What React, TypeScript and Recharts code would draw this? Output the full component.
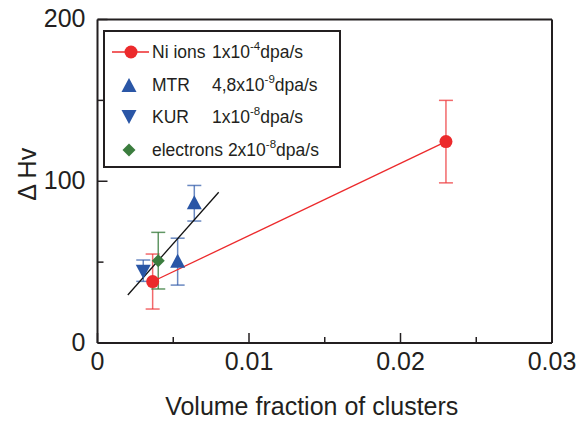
import React from 'react';
import { ScatterChart, Scatter, XAxis, YAxis, ErrorBar } from 'recharts';

// measured points (x = volume fraction, y = delta Hv, err = half error bar)
const niIons = [
  { x: 0.00364, y: 38, err: 17 },
  { x: 0.023, y: 124.5, err: 25.5 },
];
const mtr = [
  { x: 0.00529, y: 50.3, err: 14.5 },
  { x: 0.00639, y: 86.4, err: 11 },
];
const kur = [{ x: 0.00302, y: 44.7, err: 6.6 }];
const electrons = [{ x: 0.00401, y: 50.9, err: 17.5 }];
const fitLine = [
  { x: 0.002, y: 29.7 },
  { x: 0.008, y: 93.2 },
];

const xTicks = [0, 0.005, 0.01, 0.015, 0.02, 0.025, 0.03];
const yTicks = [0, 50, 100, 150, 200];
const xMajor = [0, 0.01, 0.02, 0.03];
const yMajor = [0, 100, 200];

const legendNames = ['Ni ions', 'MTR', 'KUR', 'electrons'];
const legendRates = ['1x10', '4,8x10', '1x10', '2x10'];
const legendExps = ['-4', '-9', '-8', '-8'];

const RED = '#ec2a2c';
const BLUE = '#2a56a6';
const GREEN = '#3b7d3e';
const INK = '#231f20';
const FONT = '"Liberation Sans", Arial, Helvetica, sans-serif';

const isMajor = (v: number, list: number[]) => list.some(m => Math.abs(m - v) < 1e-9);

const BottomTick = (props: any) => {
  const { x, y, payload } = props;
  const major = isMajor(payload.value, xMajor);
  return (
    <g>
      <line x1={x} y1={y} x2={x} y2={y - (major ? 10 : 6)} stroke={INK} strokeWidth={1.5} />
      {major && (
        <text x={x} y={y + 27} textAnchor="middle" fontSize={25} fill={INK}>
          {payload.value === 0 ? '0' : payload.value.toFixed(2)}
        </text>
      )}
    </g>
  );
};

const TopTick = (props: any) => {
  const { x, y, payload } = props;
  const major = isMajor(payload.value, xMajor);
  return <line x1={x} y1={y} x2={x} y2={y + (major ? 10 : 6)} stroke={INK} strokeWidth={1.5} />;
};

const LeftTick = (props: any) => {
  const { x, y, payload } = props;
  const major = isMajor(payload.value, yMajor);
  return (
    <g>
      <line x1={x} y1={y} x2={x + (major ? 10 : 6)} y2={y} stroke={INK} strokeWidth={1.5} />
      {major && (
        <text x={x - 12} y={y + 7.5} textAnchor="end" fontSize={25} fill={INK}>
          {payload.value}
        </text>
      )}
    </g>
  );
};

const RightTick = (props: any) => {
  const { x, y, payload } = props;
  const major = isMajor(payload.value, yMajor);
  return <line x1={x} y1={y} x2={x - (major ? 10 : 6)} y2={y} stroke={INK} strokeWidth={1.5} />;
};

const xLabel = (props: any) => {
  const vb = props.viewBox;
  return (
    <text x={vb.x + vb.width / 2 - 13} y={vb.y + 72} textAnchor="middle" fontSize={25} fill={INK}>
      Volume fraction of clusters
    </text>
  );
};

const yLabel = (props: any) => {
  const vb = props.viewBox;
  return (
    <text
      transform={`translate(36, ${vb.y + vb.height / 2 - 7}) rotate(-90)`}
      textAnchor="middle"
      fontSize={25}
      fill={INK}
    >
      Δ Hv
    </text>
  );
};

const circleShape = (p: any) => <circle cx={p.cx} cy={p.cy} r={6.5} fill={RED} />;
const triUpShape = (p: any) => (
  <polygon points={`${p.cx},${p.cy - 8} ${p.cx + 7.5},${p.cy + 6} ${p.cx - 7.5},${p.cy + 6}`} fill={BLUE} />
);
const triDownShape = (p: any) => (
  <polygon points={`${p.cx},${p.cy + 8} ${p.cx + 7.5},${p.cy - 6} ${p.cx - 7.5},${p.cy - 6}`} fill={BLUE} />
);
const diamondShape = (p: any) => (
  <polygon points={`${p.cx},${p.cy - 6.5} ${p.cx + 6.5},${p.cy} ${p.cx},${p.cy + 6.5} ${p.cx - 6.5},${p.cy}`} fill={GREEN} />
);
const noShape = () => <g />;

const LegendMarker = ({ i }: { i: number }) => (
  <svg width={44} height={20} style={{ position: 'absolute', left: 4, top: -1 }}>
    {i === 0 && (
      <>
        <line x1={3} y1={10} x2={40} y2={10} stroke={RED} strokeWidth={1.5} />
        {circleShape({ cx: 22, cy: 10 })}
      </>
    )}
    {i === 1 && triUpShape({ cx: 20, cy: 11 })}
    {i === 2 && triDownShape({ cx: 20, cy: 9 })}
    {i === 3 && diamondShape({ cx: 20, cy: 10 })}
  </svg>
);

const ChartLegend = () => (
  <div
    style={{
      position: 'absolute',
      left: 103,
      top: 30,
      width: 234,
      height: 134,
      border: `2px solid ${INK}`,
      background: '#fff',
      fontFamily: FONT,
      fontSize: 17.5,
      color: INK,
    }}
  >
    {legendNames.map((name, i) => (
      <div key={name} style={{ position: 'absolute', left: 0, top: 11 + i * 32.7, height: 20, width: '100%' }}>
        <LegendMarker i={i} />
        <div style={{ position: 'absolute', left: 47, top: -1, lineHeight: '20px', whiteSpace: 'nowrap' }}>
          <span style={{ display: 'inline-block', minWidth: i === 3 ? 0 : 60 }}>{name}</span>
          {i === 3 ? ' ' : ''}
          {legendRates[i]}
          <span style={{ fontSize: 11.5, position: 'relative', top: -8 }}>{legendExps[i]}</span>
          dpa/s
        </div>
      </div>
    ))}
  </div>
);

export default function App() {
  return (
    <div style={{ position: 'absolute', left: 0, top: 0, width: 587, height: 421, background: '#fff', fontFamily: FONT }}>
      <ScatterChart width={587} height={421} margin={{ top: 18.5, right: 34, left: 0, bottom: 0 }}>
        <XAxis
          dataKey="x"
          type="number"
          domain={[0, 0.03]}
          ticks={xTicks}
          interval={0}
          height={78}
          tickSize={0}
          tickMargin={0}
          tickLine={false}
          tick={<BottomTick />}
          axisLine={{ stroke: INK, strokeWidth: 2 }}
          label={xLabel}
        />
        <XAxis
          xAxisId="top"
          orientation="top"
          dataKey="x"
          type="number"
          domain={[0, 0.03]}
          ticks={xTicks}
          interval={0}
          height={1}
          tickSize={0}
          tickMargin={0}
          tickLine={false}
          tick={<TopTick />}
          axisLine={{ stroke: INK, strokeWidth: 2 }}
        />
        <YAxis
          dataKey="y"
          type="number"
          domain={[0, 200]}
          ticks={yTicks}
          interval={0}
          width={97.5}
          tickSize={0}
          tickMargin={0}
          tickLine={false}
          tick={<LeftTick />}
          axisLine={{ stroke: INK, strokeWidth: 2 }}
          label={yLabel}
        />
        <YAxis
          yAxisId="right"
          orientation="right"
          dataKey="y"
          type="number"
          domain={[0, 200]}
          ticks={yTicks}
          interval={0}
          width={1}
          tickSize={0}
          tickMargin={0}
          tickLine={false}
          tick={<RightTick />}
          axisLine={{ stroke: INK, strokeWidth: 2 }}
        />
        <Scatter data={fitLine} line={{ stroke: '#111', strokeWidth: 1.3 }} shape={noShape} isAnimationActive={false} />
        <Scatter data={niIons} line={{ stroke: RED, strokeWidth: 1.3 }} shape={circleShape} isAnimationActive={false}>
          <ErrorBar dataKey="err" direction="y" width={7} stroke={RED} strokeOpacity={0.7} strokeWidth={1.5} />
        </Scatter>
        <Scatter data={mtr} shape={triUpShape} isAnimationActive={false}>
          <ErrorBar dataKey="err" direction="y" width={7} stroke={BLUE} strokeOpacity={0.7} strokeWidth={1.5} />
        </Scatter>
        <Scatter data={kur} shape={triDownShape} isAnimationActive={false}>
          <ErrorBar dataKey="err" direction="y" width={7} stroke={BLUE} strokeOpacity={0.7} strokeWidth={1.5} />
        </Scatter>
        <Scatter data={electrons} shape={diamondShape} isAnimationActive={false}>
          <ErrorBar dataKey="err" direction="y" width={7} stroke={GREEN} strokeOpacity={0.8} strokeWidth={1.5} />
        </Scatter>
      </ScatterChart>
      <ChartLegend />
    </div>
  );
}
